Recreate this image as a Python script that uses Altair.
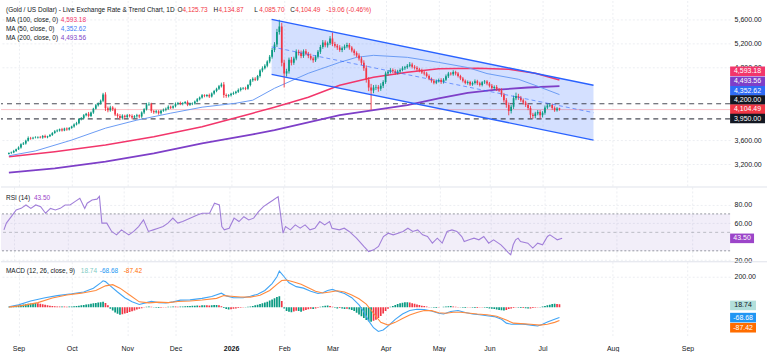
import altair as alt
import pandas as pd

# ---------------- price data (daily bars, index 0 = first session on screen) -------------
first_open = 3370
closes = [
    3385, 3395, 3420, 3448, 3476, 3532, 3545, 3590, 3635, 3628,
    3640, 3643, 3650, 3642, 3668, 3648, 3662, 3685, 3718, 3745,
    3760, 3778, 3759, 3790, 3775, 3800, 3825, 3858, 3880, 3948,
    3960, 4012, 4035, 4000, 4056, 4120, 4175, 4205, 4250, 4356,
    4125, 4095, 4140, 4110, 4025, 4000, 3965, 4002, 3980, 4010,
    4000, 3975, 3995, 4010, 3990, 4055, 4110, 4190, 4195, 4080,
    4060, 4075, 4045, 4085, 4100, 4120, 4150, 4135, 4160, 4200,
    4215, 4195, 4210, 4230, 4185, 4200, 4205, 4240, 4275, 4305,
    4340, 4330, 4345, 4320, 4370, 4410, 4450, 4490, 4520, 4345,
    4330, 4340, 4365, 4380, 4400, 4430, 4455, 4460, 4450, 4510,
    4590, 4615, 4600, 4660, 4750, 4790, 4830, 4900, 4980, 5090,
    5180, 5390, 5480, 4880, 4700, 4740, 4930, 4880, 4950, 5060,
    5040, 4990, 5070, 5030, 4990, 4950, 4920, 4980, 5060, 5140,
    5215, 5170, 5200, 5280, 5190, 5160, 5130, 5090, 5120, 5150,
    5175, 5130, 5080, 5040, 5000, 4950, 4880, 4790, 4600, 4470,
    4420, 4470, 4480, 4450, 4500, 4560, 4700, 4730, 4760, 4740,
    4710, 4735, 4760, 4790, 4805, 4830, 4850, 4815, 4795, 4770,
    4750, 4720, 4700, 4660, 4615, 4580, 4550, 4575, 4595, 4560,
    4600, 4655, 4700, 4690, 4725, 4700, 4660, 4620, 4580, 4545,
    4560, 4520, 4545, 4575, 4540, 4510, 4555, 4570, 4535, 4500,
    4460, 4480, 4440, 4420, 4350, 4260, 4180, 4080, 4150, 4290,
    4330, 4300, 4260, 4220, 4180, 4130, 4020, 4000, 4040, 4065,
    4010, 4050, 4140, 4170, 4180, 4130, 4095, 4123.55,
]
upper_wick = [
    12, 15, 18, 10, 20, 14, 22, 16, 25, 18,
    14, 20, 12, 18, 15, 22, 10, 16, 14, 20,
    18, 12, 24, 15, 20, 16, 12, 18, 22, 14,
    20, 18, 15, 30, 16, 14, 22, 18, 20, 25,
    35, 30, 28, 22, 25, 20, 30, 24, 18, 22,
    20, 26, 18, 24, 15, 20, 18, 25, 30, 22,
    18, 24, 20, 16, 22, 18, 25, 20, 15, 22,
    16, 22, 18, 15, 26, 20, 18, 14, 20, 16,
    22, 18, 15, 24, 18, 20, 16, 22, 30, 40,
    26, 20, 18, 22, 16, 24, 20, 18, 22, 16,
    20, 24, 26, 18, 22, 30, 25, 20, 28, 35,
    40, 50, 110, 60, 50, 40, 35, 45, 30, 40,
    35, 40, 30, 35, 28, 40, 30, 25, 30, 35,
    40, 35, 30, 40, 100, 35, 30, 40, 28, 30,
    35, 30, 25, 30, 28, 35, 30, 40, 45, 40,
    60, 40, 35, 30, 40, 30, 35, 28, 30, 25,
    30, 28, 25, 30, 22, 28, 40, 30, 25, 28,
    25, 30, 22, 28, 25, 20, 30, 26, 22, 28,
    24, 30, 28, 25, 30, 22, 26, 20, 24, 22,
    26, 20, 24, 28, 22, 25, 20, 24, 22, 26,
    28, 24, 30, 22, 35, 30, 35, 40, 30, 45,
    55, 35, 30, 28, 30, 25, 35, 30, 28, 32,
    30, 28, 32, 26, 30, 24, 28, 22,
]
lower_wick = [
    10, 14, 12, 16, 12, 18, 14, 20, 15, 22,
    16, 12, 18, 14, 20, 15, 18, 12, 16, 14,
    15, 20, 18, 12, 22, 16, 14, 20, 16, 18,
    22, 16, 20, 25, 18, 22, 15, 20, 18, 22,
    45, 35, 25, 30, 28, 32, 35, 25, 30, 22,
    24, 30, 20, 25, 30, 22, 25, 20, 24, 30,
    26, 20, 25, 22, 18, 24, 20, 22, 18, 20,
    22, 18, 20, 16, 24, 20, 22, 18, 16, 20,
    18, 22, 20, 24, 16, 20, 18, 22, 20, 45,
    30, 24, 20, 18, 22, 20, 25, 22, 24, 18,
    22, 26, 24, 20, 25, 28, 22, 26, 30, 32,
    35, 40, 45, 60, 230, 50, 40, 45, 35, 30,
    40, 35, 30, 28, 35, 30, 40, 28, 30, 35,
    30, 35, 40, 28, 35, 30, 38, 30, 35, 28,
    30, 35, 28, 40, 30, 35, 40, 45, 50, 60,
    320, 45, 40, 50, 35, 40, 30, 35, 28, 32,
    30, 25, 28, 22, 30, 26, 24, 30, 28, 25,
    28, 25, 30, 26, 24, 30, 28, 25, 22, 30,
    25, 24, 28, 22, 26, 30, 24, 28, 26, 22,
    28, 25, 22, 26, 30, 24, 22, 26, 28, 30,
    25, 30, 28, 26, 35, 40, 45, 70, 40, 35,
    30, 35, 28, 30, 32, 35, 60, 50, 40, 30,
    60, 35, 30, 28, 25, 30, 28, 24,
]
last_bar = {"open": 4125.73, "high": 4134.87, "low": 4085.70, "close": 4104.49}

# moving averages (bar index, value)
ma50_idx = [0, 11, 26, 40, 53, 67, 80, 94, 101, 110, 124, 137, 144, 151, 165, 178, 190, 198, 211, 219, 228]
ma50_val = [3340, 3420, 3600, 3797, 3930, 4045, 4144, 4210, 4260, 4457, 4705, 4886, 4969, 5002, 4969, 4886, 4800, 4700, 4606, 4490, 4352.62]
ma100_idx = [0, 19, 40, 60, 80, 101, 110, 124, 137, 151, 165, 178, 194, 207, 218, 228]
ma100_val = [3324, 3407, 3517, 3654, 3819, 4045, 4144, 4309, 4507, 4639, 4722, 4780, 4787, 4771, 4705, 4593.18]
ma200_idx = [0, 19, 40, 60, 80, 101, 110, 137, 165, 178, 190, 201, 215, 228]
ma200_val = [3060, 3133, 3242, 3380, 3545, 3694, 3765, 4012, 4177, 4290, 4380, 4430, 4470, 4493.56]

# descending channel (bar index at both ends, upper / lower rail)
channel_idx = [108.8, 242.1]
channel_upper = [5596, 4507]
channel_lower = [4688, 3600]

# horizontal levels
levels = [4200.0, 3950.0]

# RSI(14)
rsi_idx = [0, 1, 3, 5, 7, 9, 11, 13, 15, 17, 19, 21, 23, 25, 27, 29, 31, 33, 34, 36, 38, 39, 40, 42, 44, 46, 48,
           51, 53, 55, 57, 59, 61, 63, 65, 67, 69, 71, 73, 76, 79, 81, 84, 86, 88, 89, 90, 92, 94, 96, 98, 100,
           102, 104, 106, 108, 110, 112, 113, 114, 115, 117, 119, 121, 123, 125, 127, 129, 131, 133, 134, 137,
           139, 141, 144, 147, 149, 151, 153, 155, 157, 159, 161, 163, 165, 167, 169, 171, 173, 175, 177, 179,
           181, 183, 185, 187, 188, 190, 192, 194, 196, 198, 200, 203, 205, 206, 207, 208, 209, 210, 211, 214,
           216, 218, 220, 222, 223, 225, 226, 228]
rsi_val = [52.7, 60, 67, 74.3, 76, 79.7, 76, 79.7, 77.9, 70.7, 76, 74.3, 76, 79.7, 79.7, 83.3, 87, 76, 81.6, 85, 86,
           89, 60, 60, 51, 47.3, 52.7, 47.3, 51, 56.3, 63.5, 51, 52.7, 54.5, 56.3, 60, 65.4, 60, 61.7, 65.4, 68.9,
           70.7, 70.7, 81.6, 79.7, 56.3, 52.7, 54.5, 65.4, 61.7, 67, 63.5, 65.4, 72.5, 77.9, 81.6, 85, 88.7, 68.9,
           49.1, 56.3, 52.7, 58.1, 54.5, 58.1, 52.7, 54.5, 61.7, 58.1, 61.7, 54.5, 52.7, 54.5, 51, 43.7, 34.7,
           29.2, 31, 34.7, 45.5, 49.1, 47.3, 49.1, 51, 54.5, 51, 52.7, 47.3, 45.5, 38.3, 43.7, 38.3, 51, 52.7,
           51, 45.5, 40, 41.9, 43.7, 41.9, 45.5, 38.3, 41.9, 36.5, 31, 28, 25.7, 36.5, 41.9, 43.7, 40, 38.3, 33,
           38.3, 36.5, 45.5, 47.3, 43.7, 41.9, 43.5]
rsi_levels = [70, 30]
rsi_mid = [50]

# MACD(12, 26, close, 9)
macd_idx = [0, 4, 9, 15, 20, 26, 31, 35, 38, 39, 40, 42, 45, 48, 51, 54, 57, 59, 62, 65, 68, 71, 75, 80, 84, 88, 90,
            93, 97, 100, 103, 106, 109, 111, 112, 114, 116, 119, 122, 125, 128, 130, 132, 134, 136, 139, 142, 145,
            147, 149, 151, 153, 155, 157, 160, 163, 166, 169, 172, 175, 178, 180, 183, 186, 189, 192, 195, 198,
            201, 204, 206, 208, 211, 214, 217, 219, 221, 223, 226, 228]
macd_val = [3, 15, 40, 62, 76, 88, 100, 125, 160, 173, 168, 140, 100, 62, 35, 18, 30, 38, 30, 27, 35, 46, 48, 58, 70,
            92, 74, 62, 62, 72, 85, 110, 155, 200, 237, 200, 160, 135, 125, 105, 90, 95, 110, 117, 105, 90, 62, 15,
            -30, -90, -135, -160, -150, -125, -80, -45, -22, -14, -15, -25, -40, -45, -28, -22, -35, -45, -50, -56,
            -62, -80, -105, -112, -110, -113, -120, -124, -112, -98, -80, -68.68]
signal_idx = [0, 6, 12, 18, 24, 30, 36, 40, 43, 46, 50, 54, 58, 62, 66, 70, 75, 80, 86, 89, 92, 96, 100, 104, 108,
              111, 113, 115, 118, 121, 124, 127, 130, 133, 136, 139, 142, 145, 148, 151, 154, 157, 160, 163, 166,
              169, 172, 175, 178, 181, 184, 187, 190, 194, 198, 202, 206, 209, 212, 216, 220, 223, 226, 228]
signal_val = [0, 12, 30, 60, 80, 92, 110, 140, 148, 125, 80, 35, 28, 33, 30, 37, 40, 47, 58, 76, 72, 67, 66, 78, 110,
              150, 175, 178, 165, 150, 128, 105, 93, 100, 108, 100, 80, 55, 20, -40, -100, -118, -100, -75, -52,
              -35, -22, -23, -37, -40, -33, -33, -38, -45, -50, -60, -85, -105, -108, -112, -118, -112, -100, -87.42]
hist = [
    2, 4, 6, 8,
    11, 14, 17, 19, 22, 24, 26, 27,
    25, 22, 19, 16, 13, 10, 8, 6,
    5, 4, 5, 4, 3, 4, 5, 6,
    8, 10, 12, 14, 17, 19, 22, 25, 27, 30, 33, 35,
    28, 12,
    -10, -22, -35, -44, -50,
    -47, -42, -38, -32, -27, -22, -16, -11, -7, -3,
    2, 4, 3,
    -2, -4, -5, -4, -3, -2,
    2, 3, 4, 4, 3, 4, 5,
    6, 7, 8, 9, 10, 11, 10, 12, 13, 12, 11, 12, 14, 15,
    12, 6,
    -6, -12, -16, -14, -11, -8, -6, -4,
    -2, 1, 3, 5,
    8, 12, 16, 20, 25, 30, 36, 43, 50, 58, 66, 72,
    40, -8, -25,
    -30, -34, -28, -24, -26, -30, -24, -18, -14, -10, -12, -8, -4,
    2, 6, 9, 11, 8,
    2, -4, -8, -6,
    -8, -12, -10, -14, -18,
    -26, -36, -48, -60, -72, -84, -92, -96,
    -90, -82, -72, -58, -42, -26, -10,
    2, 8, 14, 20, 25, 29, 32, 33,
    30, 26, 22, 18, 14, 10, 7, 4, 1,
    -2, -4, -5, -3, -1, 2,
    4, 6, 7, 5, 3, 1,
    -2, -4, -5, -3, -2, -4, -6,
    -5, -3, -2, -4,
    -6, -8, -10, -12, -15, -18, -20, -22, -18, -12,
    -8, -5, -2, -4, -6, -5,
    -7, -9, -8, -6, -4, -2, 1,
    4, 8, 12, 16, 20, 22, 21, 18.74,
]

# time axis
month_pos = [4, 26, 49, 69, 92, 114, 134, 156, 178, 199, 221, 250, 281]
month_name = ["Sep", "Oct", "Nov", "Dec", "2026", "Feb", "Mar", "Apr", "May", "Jun", "Jul", "Aug", "Sep"]
# scale labels left visible beside the value tags
price_ticks = [3200, 3600, 4800, 5200, 5600]
rsi_ticks = [20, 60, 80]
macd_ticks = [200]

# ---------------- styling ----------------
FONT = "Liberation Sans"
INK = "#131722"
GRID = "#eceef2"
GREEN = "#089981"
RED = "#f23645"
MA100_C = "#f2366b"
MA50_C = "#6b9cf4"
MA200_C = "#7e3fc8"
CHAN_C = "#2962ff"
RSI_C = "#a17fd9"
MACD_C = "#42a5f5"
SIG_C = "#ff8a3d"
PLOT_W = 731
H_PRICE, H_RSI, H_MACD = 187, 75, 76

X_SCALE = alt.Scale(domain=[-1.2, 296.6], nice=False, zero=False)
P_SCALE = alt.Scale(domain=[2824, 5910], nice=False, zero=False)
R_SCALE = alt.Scale(domain=[18.1, 99.2], nice=False, zero=False)
M_SCALE = alt.Scale(domain=[-200, 298.4], nice=False, zero=False)

grid_x = alt.Axis(values=month_pos, labels=False, ticks=False, domain=False, grid=True,
                  gridColor=GRID, gridDash=[2, 2])
label_expr = " : ".join(f"datum.value == {p} ? '{n}'" for p, n in zip(month_pos, month_name)) + " : ''"
bottom_x = alt.Axis(values=month_pos, labelExpr=label_expr, ticks=False, domain=False, grid=True,
                    gridColor=GRID, gridDash=[2, 2], labelFontSize=7, labelColor=INK, labelPadding=7,
                    labelFontWeight={"condition": {"test": "datum.value == 92", "value": "bold"},
                                     "value": "normal"})


def y_axis(values, fmt):
    return alt.Axis(values=values, format=fmt, orient="right", ticks=False, domain=False, grid=True,
                    gridColor=GRID, gridDash=[2, 2], labelFontSize=7, labelColor=INK, labelPadding=4)


P_AXIS = y_axis(price_ticks, ",.2f")
R_AXIS = y_axis(rsi_ticks, ".2f")
M_AXIS = y_axis(macd_ticks, ".2f")


def X(field="i", axis=grid_x):
    return alt.X(f"{field}:Q", scale=X_SCALE, axis=axis, title=None)


def PY(field):
    return alt.Y(f"{field}:Q", scale=P_SCALE, axis=P_AXIS, title=None)


def RY(field):
    return alt.Y(f"{field}:Q", scale=R_SCALE, axis=R_AXIS, title=None)


def MY(field):
    return alt.Y(f"{field}:Q", scale=M_SCALE, axis=M_AXIS, title=None)


def text_at(s, x, y, color=INK, size=6.5, weight="normal"):
    return alt.Chart(pd.DataFrame({"t": [s]})).mark_text(
        align="left", baseline="middle", fontSize=size, color=color, fontWeight=weight
    ).encode(x=alt.value(x), y=alt.value(y), text="t:N")


def price_tag(value, label, fill, ink, nudge, yfn, width):
    r = 9.6 / width
    shape = f"M-1,-{r:.4f}H1V{r:.4f}H-1Z"
    df = pd.DataFrame({"v": [value], "t": [label]})
    cx = PLOT_W + width / 2
    box = alt.Chart(df).mark_point(shape=shape, size=width ** 2, filled=True, opacity=1, color=fill,
                                   strokeWidth=0, yOffset=nudge, clip=False).encode(
        x=alt.value(cx), y=yfn("v"))
    lab = alt.Chart(df).mark_text(fontSize=7, color=ink, yOffset=nudge, align="center",
                                  baseline="middle", clip=False).encode(
        x=alt.value(cx), y=yfn("v"), text="t:N")
    return [box, lab]


def separator():
    return alt.Chart(pd.DataFrame({"a": [0]})).mark_rule(color="#e0e3eb", strokeWidth=1, clip=False).encode(
        x=alt.value(0), x2=alt.value(768), y=alt.value(0))


# ---------------- price panel ----------------
opens = [first_open] + closes[:-1]
rows = []
for i, (o, c, u, d) in enumerate(zip(opens, closes, upper_wick, lower_wick)):
    rows.append({"i": i, "open": o, "close": c, "high": max(o, c) + u, "low": min(o, c) - d})
rows.append({"i": len(closes), **last_bar})
candles = pd.DataFrame(rows)
candles["dir"] = ["up" if c >= o else "down" for o, c in zip(candles["open"], candles["close"])]
dir_color = alt.Color("dir:N", scale=alt.Scale(domain=["up", "down"], range=[GREEN, RED]), legend=None)

chan = pd.DataFrame({"i": channel_idx, "upper": channel_upper, "lower": channel_lower})
chan["mid"] = (chan["upper"] + chan["lower"]) / 2

chan_fill = alt.Chart(chan).mark_area(color=CHAN_C, opacity=0.2, clip=True).encode(
    x=X(), y=PY("upper"), y2=alt.Y2("lower"))
chan_up = alt.Chart(chan).mark_line(color=CHAN_C, strokeWidth=1.4, clip=True).encode(x=X(), y=PY("upper"))
chan_lo = alt.Chart(chan).mark_line(color=CHAN_C, strokeWidth=1.4, clip=True).encode(x=X(), y=PY("lower"))
chan_mid = alt.Chart(chan).mark_line(color=CHAN_C, strokeWidth=1, strokeDash=[4, 3], opacity=0.6,
                                     clip=True).encode(x=X(), y=PY("mid"))

level_rules = alt.Chart(pd.DataFrame({"v": levels})).mark_rule(
    color="#2a2e39", strokeDash=[5, 4], strokeWidth=1.1, opacity=0.85).encode(y=PY("v"))
last_rule = alt.Chart(pd.DataFrame({"v": [last_bar["close"]]})).mark_rule(
    color=RED, strokeWidth=1, opacity=0.3).encode(y=PY("v"))


def ma_line(idx, val, color, width):
    return alt.Chart(pd.DataFrame({"i": idx, "v": val})).mark_line(
        color=color, strokeWidth=width, clip=True).encode(x=X(), y=PY("v"))


ma50_line = ma_line(ma50_idx, ma50_val, MA50_C, 1)
ma100_line = ma_line(ma100_idx, ma100_val, MA100_C, 1.5)
ma200_line = ma_line(ma200_idx, ma200_val, MA200_C, 1.8)

wicks = alt.Chart(candles).mark_rule(strokeWidth=0.9, clip=True).encode(
    x=X(), y=PY("low"), y2=alt.Y2("high"), color=dir_color)
bodies = alt.Chart(candles).mark_bar(size=1.7, clip=True).encode(
    x=X(), y=PY("open"), y2=alt.Y2("close"), color=dir_color)

chg = last_bar["close"] - closes[-1]
pct = chg / closes[-1] * 100
header = [
    text_at("(Gold / US Dollar) - Live Exchange Rate & Trend Chart, 1D", 5, 9.5),
    text_at("O", 177, 9.5), text_at(f"{last_bar['open']:,.2f}", 182, 9.5, RED),
    text_at("H", 213, 9.5), text_at(f"{last_bar['high']:,.2f}", 218, 9.5, RED),
    text_at("L", 254, 9.5), text_at(f"{last_bar['low']:,.2f}", 259, 9.5, RED),
    text_at("C", 290, 9.5), text_at(f"{last_bar['close']:,.2f}", 295, 9.5, RED),
    text_at(f"{chg:.2f} ({pct:.2f}%)", 326, 9.5, RED),
    text_at("MA (100, close, 0)", 5, 19.5), text_at(f"{ma100_val[-1]:,.2f}", 60, 19.5, MA100_C),
    text_at("MA (50, close, 0)", 5, 28.5), text_at(f"{ma50_val[-1]:,.2f}", 60, 28.5, "#3d7bf5"),
    text_at("MA (200, close, 0)", 5, 37.5), text_at(f"{ma200_val[-1]:,.2f}", 60, 37.5, MA200_C),
]

price_tags = []
for v, fill, nudge in [(ma100_val[-1], MA100_C, -8.8), (ma200_val[-1], MA200_C, -4.8),
                       (ma50_val[-1], "#2f6bf6", -3.7), (levels[0], INK, -3.9),
                       (last_bar["close"], RED, -0.4), (levels[1], INK, -0.4)]:
    price_tags += price_tag(v, f"{v:,.2f}", fill, "white", nudge, PY, 35)

price_panel = alt.layer(
    chan_fill, level_rules, last_rule, ma200_line, ma100_line, ma50_line,
    wicks, bodies, chan_up, chan_lo, chan_mid, *header, *price_tags
).properties(width=PLOT_W, height=H_PRICE)

# ---------------- RSI panel ----------------
rsi_df = pd.DataFrame({"i": rsi_idx, "v": rsi_val})
band = alt.Chart(pd.DataFrame({"lo": [rsi_levels[1]], "hi": [rsi_levels[0]]})).mark_rect(
    color="#7e57c2", opacity=0.1).encode(x=alt.value(0), x2=alt.value(PLOT_W), y=RY("lo"), y2=alt.Y2("hi"))
band_edges = alt.Chart(pd.DataFrame({"v": rsi_levels})).mark_rule(
    color="#9598a1", strokeDash=[2, 2], strokeWidth=1).encode(y=RY("v"))
band_mid = alt.Chart(pd.DataFrame({"v": rsi_mid})).mark_rule(
    color="#9598a1", strokeDash=[3, 3], strokeWidth=1, opacity=0.6).encode(y=RY("v"))
rsi_line = alt.Chart(rsi_df).mark_line(color=RSI_C, strokeWidth=1.1, clip=True).encode(x=X(), y=RY("v"))
rsi_panel = alt.layer(
    band, band_edges, band_mid, rsi_line, separator(),
    text_at("RSI (14)", 5, 11), text_at(f"{rsi_val[-1]:.2f}", 33, 11, "#9c45c9"),
    *price_tag(rsi_val[-1], f"{rsi_val[-1]:.2f}", "#9c45c9", "white", 0, RY, 24)
).properties(width=PLOT_W, height=H_RSI)

# ---------------- MACD panel ----------------
prev = [0] + hist[:-1]
hcls = []
for h, p in zip(hist, prev):
    if h >= 0:
        hcls.append("grow_up" if h > p else "fall_up")
    else:
        hcls.append("fall_down" if h < p else "grow_down")
hist_df = pd.DataFrame({"i": list(range(len(hist))), "h": hist, "c": hcls})
hist_color = alt.Color("c:N", scale=alt.Scale(domain=["grow_up", "fall_up", "fall_down", "grow_down"],
                                              range=["#26a69a", "#b2dfdb", "#ff5252", "#ffcdd2"]), legend=None)
hist_bars = alt.Chart(hist_df).mark_bar(size=1.7, clip=True).encode(
    x=X(axis=bottom_x), y=MY("h"), y2=alt.datum(0), color=hist_color)
macd_line = alt.Chart(pd.DataFrame({"i": macd_idx, "v": macd_val})).mark_line(
    color=MACD_C, strokeWidth=1.1, clip=True).encode(x=X(axis=bottom_x), y=MY("v"))
sig_line = alt.Chart(pd.DataFrame({"i": signal_idx, "v": signal_val})).mark_line(
    color=SIG_C, strokeWidth=1.1, clip=True).encode(x=X(axis=bottom_x), y=MY("v"))
macd_panel = alt.layer(
    hist_bars, macd_line, sig_line, separator(),
    text_at("MACD (12, 26, close, 9)", 5, 9.7),
    text_at(f"{hist[-1]:.2f}", 80, 9.7, "#80cbc4"),
    text_at(f"{macd_val[-1]:.2f}", 99, 9.7, "#2196f3"),
    text_at(f"{signal_val[-1]:.2f}", 123, 9.7, "#ff6d00"),
    *price_tag(hist[-1], f"{hist[-1]:.2f}", "#b2dfdb", INK, 1.1, MY, 26),
    *price_tag(macd_val[-1], f"{macd_val[-1]:.2f}", "#2196f3", "white", 0, MY, 26),
    *price_tag(signal_val[-1], f"{signal_val[-1]:.2f}", "#ff6d00", "white", 7.3, MY, 26),
).properties(width=PLOT_W, height=H_MACD)

chart = alt.vconcat(price_panel, rsi_panel, macd_panel, spacing=0, bounds="flush").properties(
    padding={"left": 0, "top": 0, "right": 0, "bottom": 0}
).configure(font=FONT, background="white").configure_view(stroke=None)

chart.save("out.html", embed_options={"renderer": "svg", "actions": False})
